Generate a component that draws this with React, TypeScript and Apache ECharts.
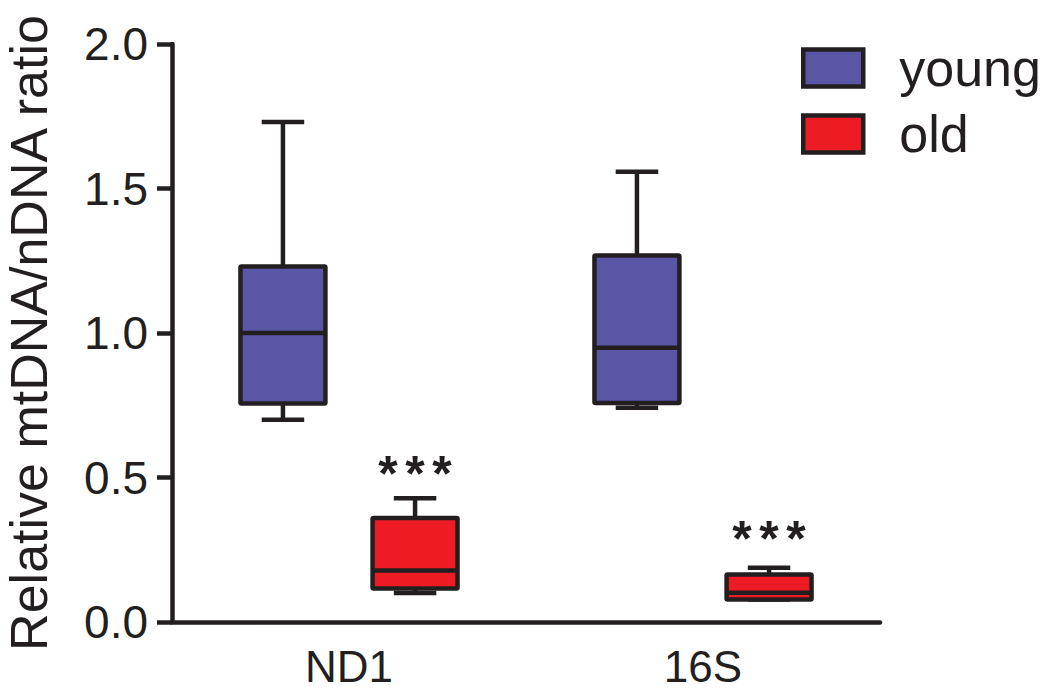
import React, { useEffect, useRef } from 'react';
import * as echarts from 'echarts';

const categories = ['ND1', '16S'];
const seriesNames = ['young', 'old'];
// [min, Q1, median, Q3, max]
const youngStats = [
  [0.7, 0.756, 1.0, 1.23, 1.73],
  [0.741, 0.758, 0.949, 1.268, 1.558],
];
const oldStats = [
  [0.1, 0.116, 0.178, 0.36, 0.428],
  [0.078, 0.078, 0.101, 0.164, 0.188],
];
const sigMarks = ['***', '***'];
const sigValues = [0.552, 0.327];
const yMin = 0;
const yMax = 2;
const yInterval = 0.5;
const yTitle = 'Relative mtDNA/nDNA ratio';

const INK = '#231f20';
const FONT = '"Liberation Sans", Arial, Helvetica, sans-serif';
const COLORS = ['#5a56a5', '#ed1c24'];
const LW = 4.5;

function makeRender(offsetFrac: number) {
  return (params: any, api: any) => {
    const cat = api.value(0);
    const vals = [1, 2, 3, 4, 5].map((i) => api.value(i));
    const band = api.size([1, 0])[0];
    const center = api.coord([cat, 0])[0];
    const cx = center + offsetFrac * band;
    const [pMin, pQ1, pMed, pQ3, pMax] = vals.map((v) => api.coord([cat, v])[1]);
    const half = band * 0.12;
    const cap = band * 0.06;
    const color = api.visual('color');
    const ls = { stroke: INK, lineWidth: LW };
    const children: any[] = [
      { type: 'line', shape: { x1: cx, y1: pMax, x2: cx, y2: pQ3 }, style: ls },
      { type: 'line', shape: { x1: cx - cap, y1: pMax, x2: cx + cap, y2: pMax }, style: ls },
      { type: 'line', shape: { x1: cx, y1: pMin, x2: cx, y2: pQ1 }, style: ls },
      { type: 'line', shape: { x1: cx - cap, y1: pMin, x2: cx + cap, y2: pMin }, style: ls },
      {
        type: 'rect',
        shape: { x: cx - half, y: pQ3, width: half * 2, height: pQ1 - pQ3, r: 1 },
        style: { fill: color, stroke: INK, lineWidth: LW, lineJoin: 'round' },
      },
      { type: 'line', shape: { x1: cx - half, y1: pMed, x2: cx + half, y2: pMed }, style: ls },
    ];
    const sig = api.value(6);
    const mark = sigMarks[params.dataIndex];
    if (sig != null && !isNaN(sig) && mark) {
      const sy = api.coord([cat, sig])[1];
      const n = mark.length;
      for (let k = 0; k < n; k++) {
        children.push({
          type: 'text',
          x: cx + (k - (n - 1) / 2) * 27,
          y: sy + 12,
          style: {
            text: mark[k],
            fill: INK,
            font: `bold 50px ${FONT}`,
            align: 'center',
            verticalAlign: 'middle',
          },
        });
      }
    }
    return { type: 'group', children };
  };
}

export default function App() {
  const ref = useRef<HTMLDivElement>(null);
  useEffect(() => {
    if (!ref.current) return;
    const chart = echarts.init(ref.current, undefined, { renderer: 'svg' });
    chart.setOption({
      animation: false,
      backgroundColor: '#ffffff',
      textStyle: { fontFamily: FONT },
      grid: {
        left: 172,
        top: 44,
        width: 708,
        height: 578,
        containLabel: false,
        outerBoundsMode: 'none',
      },
      legend: {
        data: seriesNames,
        orient: 'vertical',
        left: 801,
        top: 42,
        padding: 0,
        itemWidth: 60,
        itemHeight: 37,
        itemGap: 14,
        icon: 'rect',
        itemStyle: { borderColor: INK, borderWidth: LW },
        textStyle: { fontSize: 52, color: INK, fontFamily: FONT, padding: [0, 0, 0, 31] },
      },
      xAxis: {
        type: 'category',
        data: categories,
        axisLine: { lineStyle: { color: INK, width: LW } },
        axisTick: { alignWithLabel: true, length: 16, lineStyle: { color: INK, width: LW } },
        axisLabel: { fontSize: 44, color: INK, margin: 22, fontFamily: FONT },
        splitLine: { show: false },
      },
      yAxis: {
        type: 'value',
        min: yMin,
        max: yMax,
        interval: yInterval,
        name: yTitle,
        nameLocation: 'middle',
        nameRotate: 90,
        nameGap: 119,
        nameTextStyle: { fontSize: 52, lineHeight: 48, color: INK, fontFamily: FONT },
        axisLine: { show: true, lineStyle: { color: INK, width: LW } },
        axisTick: { show: true, length: 15, lineStyle: { color: INK, width: LW } },
        axisLabel: {
          fontSize: 46,
          color: INK,
          margin: 24,
          fontFamily: FONT,
          formatter: (v: number) => v.toFixed(1),
        },
        splitLine: { show: false },
      },
      series: [
        {
          name: seriesNames[0],
          type: 'custom',
          itemStyle: { color: COLORS[0] },
          renderItem: makeRender(-0.1866),
          encode: { x: 0, y: [1, 2, 3, 4, 5] },
          data: youngStats.map((s, i) => [i, ...s]),
        },
        {
          name: seriesNames[1],
          type: 'custom',
          itemStyle: { color: COLORS[1] },
          renderItem: makeRender(0.1866),
          encode: { x: 0, y: [1, 2, 3, 4, 5] },
          data: oldStats.map((s, i) => [i, ...s, sigValues[i]]),
        },
      ],
    });
    return () => chart.dispose();
  }, []);
  return (
    <div
      ref={ref}
      style={{ position: 'fixed', left: 0, top: 0, width: 1050, height: 690 }}
    />
  );
}
